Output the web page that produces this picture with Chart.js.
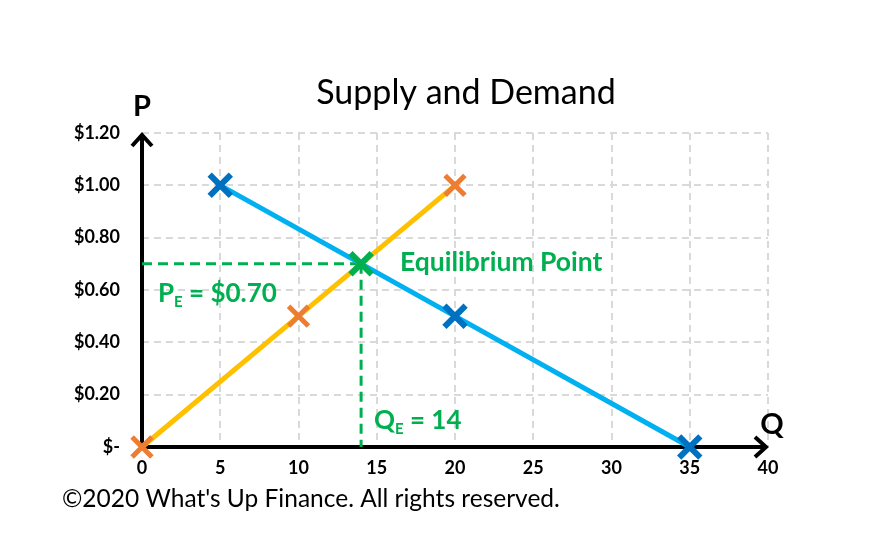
<!DOCTYPE html>
<html>
<head>
<meta charset="utf-8">
<script src="https://cdn.jsdelivr.net/npm/chart.js@4.4.0/dist/chart.umd.min.js"></script>
<style>
  html, body { margin: 0; padding: 0; background: #fff; }
  #wrap { width: 885px; height: 548px; }
</style>
</head>
<body>
<div id="wrap"><canvas id="grafico" width="885" height="548"></canvas></div>
<script>
// dados
const supplyQ = [0, 10, 20];
const supplyP = [0, 0.5, 1.0];
const demandQ = [5, 20, 35];
const demandP = [1.0, 0.5, 0];
const equilibriumQ = [14];
const equilibriumP = [0.7];
const yTickLabels = ['$-', '$0.20', '$0.40', '$0.60', '$0.80', '$1.00', '$1.20'];
const xTickLabels = ['0', '5', '10', '15', '20', '25', '30', '35', '40'];

const pontos = (xs, ys) => xs.map((x, i) => ({ x: x, y: ys[i] }));

const VERDE = '#00B050';
const FONTE = 'Lato, "Open Sans", sans-serif';

// eixos com setas, textos e anotações
const extras = {
  id: 'extras',
  beforeDatasetsDraw(chart) {
    const { ctx, scales } = chart;
    const x0 = scales.x.getPixelForValue(0);
    const y0 = scales.y.getPixelForValue(0);
    const xEnd = scales.x.getPixelForValue(40);
    const yEnd = scales.y.getPixelForValue(1.2);
    ctx.save();
    ctx.strokeStyle = '#000';
    ctx.lineWidth = 4;
    ctx.lineCap = 'butt';
    ctx.lineJoin = 'miter';
    ctx.beginPath();
    ctx.moveTo(x0, y0);
    ctx.lineTo(x0, yEnd + 2);
    ctx.moveTo(x0, y0);
    ctx.lineTo(xEnd - 2, y0);
    ctx.stroke();
    // setas
    ctx.beginPath();
    ctx.moveTo(x0 - 10, yEnd + 13);
    ctx.lineTo(x0, yEnd + 2);
    ctx.lineTo(x0 + 10, yEnd + 13);
    ctx.moveTo(xEnd - 13, y0 - 10);
    ctx.lineTo(xEnd - 2, y0);
    ctx.lineTo(xEnd - 13, y0 + 10);
    ctx.stroke();
    ctx.restore();
  },
  afterDraw(chart) {
    const { ctx } = chart;
    ctx.save();
    ctx.fillStyle = '#000';
    ctx.textBaseline = 'alphabetic';
    // titulo
    ctx.font = '34px ' + FONTE;
    ctx.textAlign = 'center';
    ctx.fillText('Supply and Demand', 466, 104);
    // P e Q
    ctx.font = 'bold 29px ' + FONTE;
    ctx.fillText('P', 142, 116);
    ctx.fillText('Q', 772, 434);
    // copyright
    ctx.font = '24.5px ' + FONTE;
    ctx.textAlign = 'left';
    ctx.fillText('\u00A92020 What\'s Up Finance. All rights reserved.', 62, 507);
    // anotações verdes
    ctx.fillStyle = VERDE;
    ctx.font = 'bold 26.5px ' + FONTE;
    ctx.fillText('Equilibrium Point', 400, 271);
    const sub = (main, s, rest, x, y) => {
      ctx.font = 'bold 26px ' + FONTE;
      ctx.fillText(main, x, y);
      let w = ctx.measureText(main).width;
      ctx.font = 'bold 15px ' + FONTE;
      ctx.fillText(s, x + w, y + 5);
      w += ctx.measureText(s).width;
      ctx.font = 'bold 26px ' + FONTE;
      ctx.fillText(rest, x + w, y);
    };
    sub('P', 'E', ' = $0.70', 158, 302);
    sub('Q', 'E', ' = 14', 374, 429);
    ctx.restore();
  }
};

const ctx = document.getElementById('grafico');
// o primeiro dataset fica por cima
new Chart(ctx, {
  type: 'scatter',
  data: {
    datasets: [
      {
        label: 'Equilibrium',
        data: pontos(equilibriumQ, equilibriumP),
        showLine: false,
        pointStyle: 'crossRot',
        pointRadius: 15,
        pointBorderWidth: 6,
        pointBorderColor: VERDE,
        clip: false
      },
      {
        label: 'Demand',
        data: pontos(demandQ, demandP),
        showLine: true,
        borderColor: '#00B0F0',
        borderWidth: 5,
        pointStyle: 'crossRot',
        pointRadius: 15,
        pointBorderWidth: 6,
        pointBorderColor: '#0070C0',
        clip: false
      },
      {
        label: 'Supply',
        data: pontos(supplyQ, supplyP),
        showLine: true,
        borderColor: '#FFC000',
        borderWidth: 5,
        pointStyle: 'crossRot',
        pointRadius: 14,
        pointBorderWidth: 5,
        pointBorderColor: '#ED7D31',
        clip: false
      },
      {
        label: 'PE',
        data: [{ x: 0, y: equilibriumP[0] }, { x: equilibriumQ[0], y: equilibriumP[0] }],
        showLine: true,
        borderColor: VERDE,
        borderWidth: 3,
        borderDash: [10, 6],
        pointRadius: 0,
        clip: false
      },
      {
        label: 'QE',
        data: [{ x: equilibriumQ[0], y: equilibriumP[0] }, { x: equilibriumQ[0], y: 0 }],
        showLine: true,
        borderColor: VERDE,
        borderWidth: 3,
        borderDash: [10, 6],
        pointRadius: 0,
        clip: false
      }
    ]
  },
  options: {
    responsive: false,
    animation: false,
    layout: { padding: { top: 133, right: 117, left: 0, bottom: 0 } },
    plugins: {
      legend: { display: false },
      tooltip: { enabled: false },
      title: { display: false }
    },
    scales: {
      x: {
        type: 'linear',
        min: 0,
        max: 40,
        ticks: {
          stepSize: 5,
          padding: 10,
          color: '#000',
          font: { family: FONTE, size: 18, weight: 'bold' },
          callback: (v, i) => xTickLabels[i]
        },
        grid: { color: '#D9D9D9', lineWidth: 2, drawTicks: false },
        border: { display: false, dash: [7, 5] },
        afterFit: (s) => { s.height = 101; }
      },
      y: {
        min: 0,
        max: 1.2,
        ticks: {
          stepSize: 0.2,
          padding: 22,
          color: '#000',
          font: { family: FONTE, size: 18, weight: 'bold' },
          callback: (v, i) => yTickLabels[i]
        },
        grid: { color: '#D9D9D9', lineWidth: 2, drawTicks: false },
        border: { display: false, dash: [7, 5] },
        afterFit: (s) => { s.width = 142; }
      }
    }
  },
  plugins: [extras]
});
</script>
</body>
</html>
